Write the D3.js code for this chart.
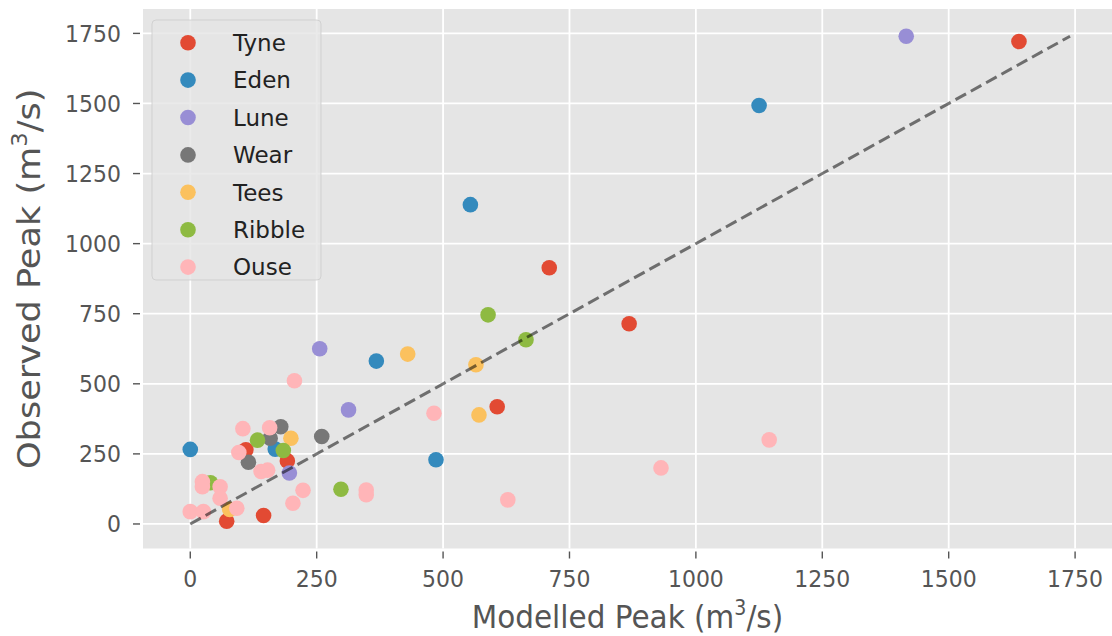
<!DOCTYPE html>
<html><head><meta charset="utf-8">
<script src="https://cdn.jsdelivr.net/npm/d3@7/dist/d3.min.js"></script>
<style>html,body{margin:0;padding:0;background:#fff;}svg{display:block;font-family:"DejaVu Sans",sans-serif;}</style>
</head><body><svg id="c" width="1112" height="636"></svg>
<script>
const seriesNames = ["Tyne","Eden","Lune","Wear","Tees","Ribble","Ouse"];
const seriesColors = ["#E24A33","#348ABD","#988ED5","#777777","#FBC15E","#8EBA42","#FFB5B8"];
// [modelled, observed]
const tyne = [[1639,1721],[710,914],[868,714],[607,418],[72,10],[145,30],[110,265],[192,225]];
const eden = [[1125,1493],[554,1139],[368,581],[0,266],[486,229],[168,267]];
const lune = [[1416,1740],[256,625],[313,407],[196,182]];
const wear = [[260,312],[179,347],[158,306],[115,220]];
const tees = [[430,606],[565,568],[571,389],[199,306],[78,52]];
const ribble = [[589,746],[664,657],[298,124],[133,299],[184,262],[40,147]];
const ouse = [[1145,300],[931,200],[628,86],[482,395],[348,121],[348,104],[206,511],[223,120],[203,74],[104,340],[157,343],[96,255],[140,187],[153,192],[24,151],[24,133],[59,133],[59,92],[92,56],[0,44],[26,44]];
const seriesData = [tyne,eden,lune,wear,tees,ribble,ouse];
const xTicks = [0,250,500,750,1000,1250,1500,1750];
const yTicks = [0,250,500,750,1000,1250,1500,1750];
const refLine = [0,1740];

const L=143,R=1112,T=9,B=548.5;
const x = d3.scaleLinear().domain([-93.5,1823]).range([L,R]);
const y = d3.scaleLinear().domain([-87.5,1837]).range([B,T]);
const svg = d3.select("#c");
const TS = 1.08;

svg.append("rect").attr("x",L).attr("y",T).attr("width",R-L).attr("height",B-T).attr("fill","#E5E5E5");
const grid = svg.append("g");
xTicks.forEach(t=>grid.append("line").attr("x1",x(t)).attr("x2",x(t)).attr("y1",T).attr("y2",B).attr("stroke","#fff").attr("stroke-width",1.8));
yTicks.forEach(t=>grid.append("line").attr("y1",y(t)).attr("y2",y(t)).attr("x1",L).attr("x2",R).attr("stroke","#fff").attr("stroke-width",1.8));

// ticks and tick labels
xTicks.forEach(t=>{
  svg.append("line").attr("x1",x(t)).attr("x2",x(t)).attr("y1",B+3).attr("y2",B+10).attr("stroke","#555").attr("stroke-width",1.4);
  svg.append("text").attr("transform",`translate(${x(t)},587) scale(1,${TS})`).attr("text-anchor","middle")
    .attr("font-size",22).attr("fill","#555").text(t);
});
yTicks.forEach(t=>{
  svg.append("line").attr("x1",L-10).attr("x2",L-3).attr("y1",y(t)).attr("y2",y(t)).attr("stroke","#555").attr("stroke-width",1.4);
  svg.append("text").attr("transform",`translate(121,${y(t)+8.5}) scale(1,${TS})`).attr("text-anchor","end")
    .attr("font-size",22).attr("fill","#555").text(t);
});

// axis labels
const xl = svg.append("text").attr("transform",`translate(${(L+R)/2},628) scale(1,1.08)`).attr("text-anchor","middle")
  .attr("font-size",29.5).attr("fill","#555");
xl.append("tspan").text("Modelled Peak (m");
xl.append("tspan").attr("font-size",19).attr("dy",-12).text("3");
xl.append("tspan").attr("dy",12).text("/s)");
const yl = svg.append("text").attr("transform",`translate(40,${(T+B)/2}) rotate(-90) scale(1.08,1)`).attr("text-anchor","middle")
  .attr("font-size",32.5).attr("fill","#555");
yl.append("tspan").text("Observed Peak (m");
yl.append("tspan").attr("font-size",21).attr("dy",-13).text("3");
yl.append("tspan").attr("dy",13).text("/s)");

// points
const pts = svg.append("g");
seriesData.forEach((data,i)=>{
  pts.selectAll(null).data(data).enter().append("circle")
    .attr("cx",d=>x(d[0])).attr("cy",d=>y(d[1])).attr("r",7.8).attr("fill",seriesColors[i]);
});

// reference line
svg.append("line").attr("x1",x(refLine[0])).attr("y1",y(refLine[0])).attr("x2",x(refLine[1])).attr("y2",y(refLine[1]))
  .attr("stroke","#000").attr("stroke-opacity",0.52).attr("stroke-width",3).attr("stroke-dasharray","12,5.5");

// legend
const lg = svg.append("g");
lg.append("rect").attr("x",152).attr("y",20).attr("width",169).attr("height",260).attr("rx",4)
  .attr("fill","#E5E5E5").attr("fill-opacity",0.8).attr("stroke","#CCCCCC").attr("stroke-opacity",0.8).attr("stroke-width",1);
seriesNames.forEach((n,i)=>{
  const cy = 42.7 + i*37.4;
  lg.append("circle").attr("cx",188).attr("cy",cy).attr("r",7.8).attr("fill",seriesColors[i]);
  lg.append("text").attr("x",233).attr("y",cy+8.3).attr("font-size",23).attr("fill","#222").text(n);
});
</script></body></html>
